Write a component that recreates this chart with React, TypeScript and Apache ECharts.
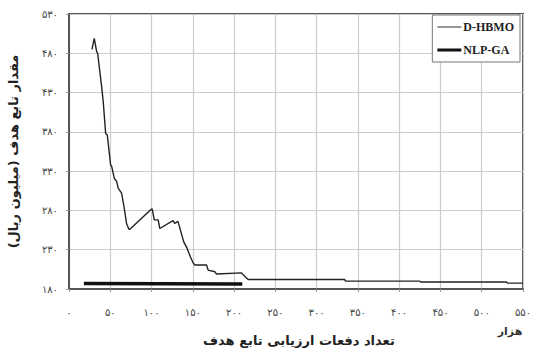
import React, { useEffect, useRef } from "react";
import * as echarts from "echarts";

const hbmoX = [27.8, 30.6, 33.5, 34.7, 39.6, 41.5, 44.4, 46.4, 50.4, 51.7, 54.8, 57.7, 59.7, 63.7, 66.6, 69.8, 72.6, 73.8, 98, 100.8, 103.3, 108, 110, 126, 128, 132, 135, 139, 143, 147, 150.5, 152.5, 166.7, 168.6, 176.7, 178.7, 209, 211, 217, 334, 335, 425, 426, 530, 531, 550];
const hbmoY = [485, 499, 482, 480, 437, 418, 378, 376, 338, 336, 321, 317, 308, 302, 285, 263, 256, 256, 280, 282, 268, 268, 257, 267, 263.5, 266, 255, 240, 232, 221, 213, 210.5, 210.5, 204, 202, 199, 200.5, 198, 192, 192, 190, 190, 189, 189, 187.5, 187.5];
const gaX = [18, 210];
const gaY = [187, 186.5];

const yBase = 180;
const yTop = 530;
const yStep = 50;
const xMax = 550;
const xStep = 50;

const seriesNames = ["D-HBMO", "NLP-GA"];
const xTitle = "تعداد دفعات ارزیابی تابع هدف";
const yTitle = "مقدار تابع هدف (میلیون ریال)";
const xUnit = "هزار";

const fa = (v: number) => String(v).replace(/\d/g, (d) => "۰۱۲۳۴۵۶۷۸۹"[Number(d)]);

// line icons: tiny corner specks keep the 24x14 box, bar in the middle gives line thickness
const thinIcon = "path://M0,0L0.01,0L0.01,0.01Z M0,6.4L24,6.4L24,7.6L0,7.6Z M23.99,14L24,14L24,13.99Z";
const thickIcon = "path://M0,0L0.01,0L0.01,0.01Z M0,5.6L24,5.6L24,8.4L0,8.4Z M23.99,14L24,14L24,13.99Z";

export default function App() {
  const ref = useRef<HTMLDivElement>(null);
  useEffect(() => {
    if (!ref.current) return;
    const chart = echarts.init(ref.current, undefined, { renderer: "svg" });
    const toPairs = (xs: number[], ys: number[]) => xs.map((x, i) => [x, ys[i] - yBase]);
    chart.setOption({
      animation: false,
      backgroundColor: "#fff",
      grid: {
        left: 69,
        top: 14,
        right: 12,
        bottom: 60,
        outerBoundsMode: "none",
        show: true,
        borderColor: "#555",
        borderWidth: 2,
      },
      legend: {
        orient: "vertical",
        right: 15,
        top: 15,
        backgroundColor: "#fff",
        borderColor: "#777",
        borderWidth: 1,
        padding: [5, 6, 5, 5],
        itemGap: 9,
        itemWidth: 24,
        itemHeight: 14,
        textStyle: {
          fontFamily: "Liberation Serif",
          fontWeight: "bold",
          fontSize: 12,
          color: "#222",
          padding: [0, 0, 0, -3],
        },
        data: [
          { name: seriesNames[0], icon: thinIcon, itemStyle: { color: "#333" } },
          { name: seriesNames[1], icon: thickIcon, itemStyle: { color: "#111" } },
        ],
      },
      xAxis: {
        type: "value",
        min: 0,
        max: xMax,
        interval: xStep,
        axisLine: { show: true, lineStyle: { color: "#555", width: 2 } },
        axisTick: { show: true, length: 3, lineStyle: { color: "#999" } },
        axisLabel: {
          formatter: (v: number) => fa(v),
          fontFamily: "DejaVu Sans",
          fontSize: 10,
          color: "#444",
          margin: 18,
        },
        splitLine: { show: true, lineStyle: { color: "#ccc", width: 1.2 } },
      },
      yAxis: {
        type: "value",
        min: 0,
        max: yTop - yBase,
        interval: yStep,
        name: yTitle,
        nameLocation: "middle",
        nameGap: 49,
        nameTextStyle: { fontFamily: "DejaVu Sans", fontWeight: "bold", fontSize: 13, color: "#222" },
        axisLine: { show: true, lineStyle: { color: "#555", width: 2 } },
        axisTick: { show: true, length: 3, lineStyle: { color: "#999" } },
        axisLabel: {
          formatter: (v: number) => fa(v + yBase),
          fontFamily: "DejaVu Sans",
          fontSize: 10,
          color: "#444",
          margin: 11,
        },
        splitLine: { show: true, lineStyle: { color: "#ccc", width: 1.2 } },
      },
      graphic: [
        {
          type: "text",
          x: 203,
          y: 340,
          style: {
            text: xTitle,
            fontFamily: "DejaVu Sans",
            fontWeight: "bold",
            fontSize: 13,
            fill: "#222",
            align: "left",
            verticalAlign: "middle",
          },
        },
        {
          type: "text",
          x: 510,
          y: 331,
          style: {
            text: xUnit,
            fontFamily: "DejaVu Sans",
            fontWeight: "bold",
            fontSize: 11,
            fill: "#333",
            align: "center",
            verticalAlign: "middle",
          },
        },
      ],
      series: [
        {
          name: seriesNames[0],
          type: "line",
          symbol: "none",
          data: toPairs(hbmoX, hbmoY),
          lineStyle: { color: "#222", width: 1.4 },
          itemStyle: { color: "#222" },
        },
        {
          name: seriesNames[1],
          type: "line",
          symbol: "none",
          data: toPairs(gaX, gaY),
          lineStyle: { color: "#111", width: 3.5 },
          itemStyle: { color: "#111" },
        },
      ],
    });
    return () => chart.dispose();
  }, []);
  return <div ref={ref} style={{ width: 535, height: 349, position: "absolute", left: 0, top: 0 }} />;
}
